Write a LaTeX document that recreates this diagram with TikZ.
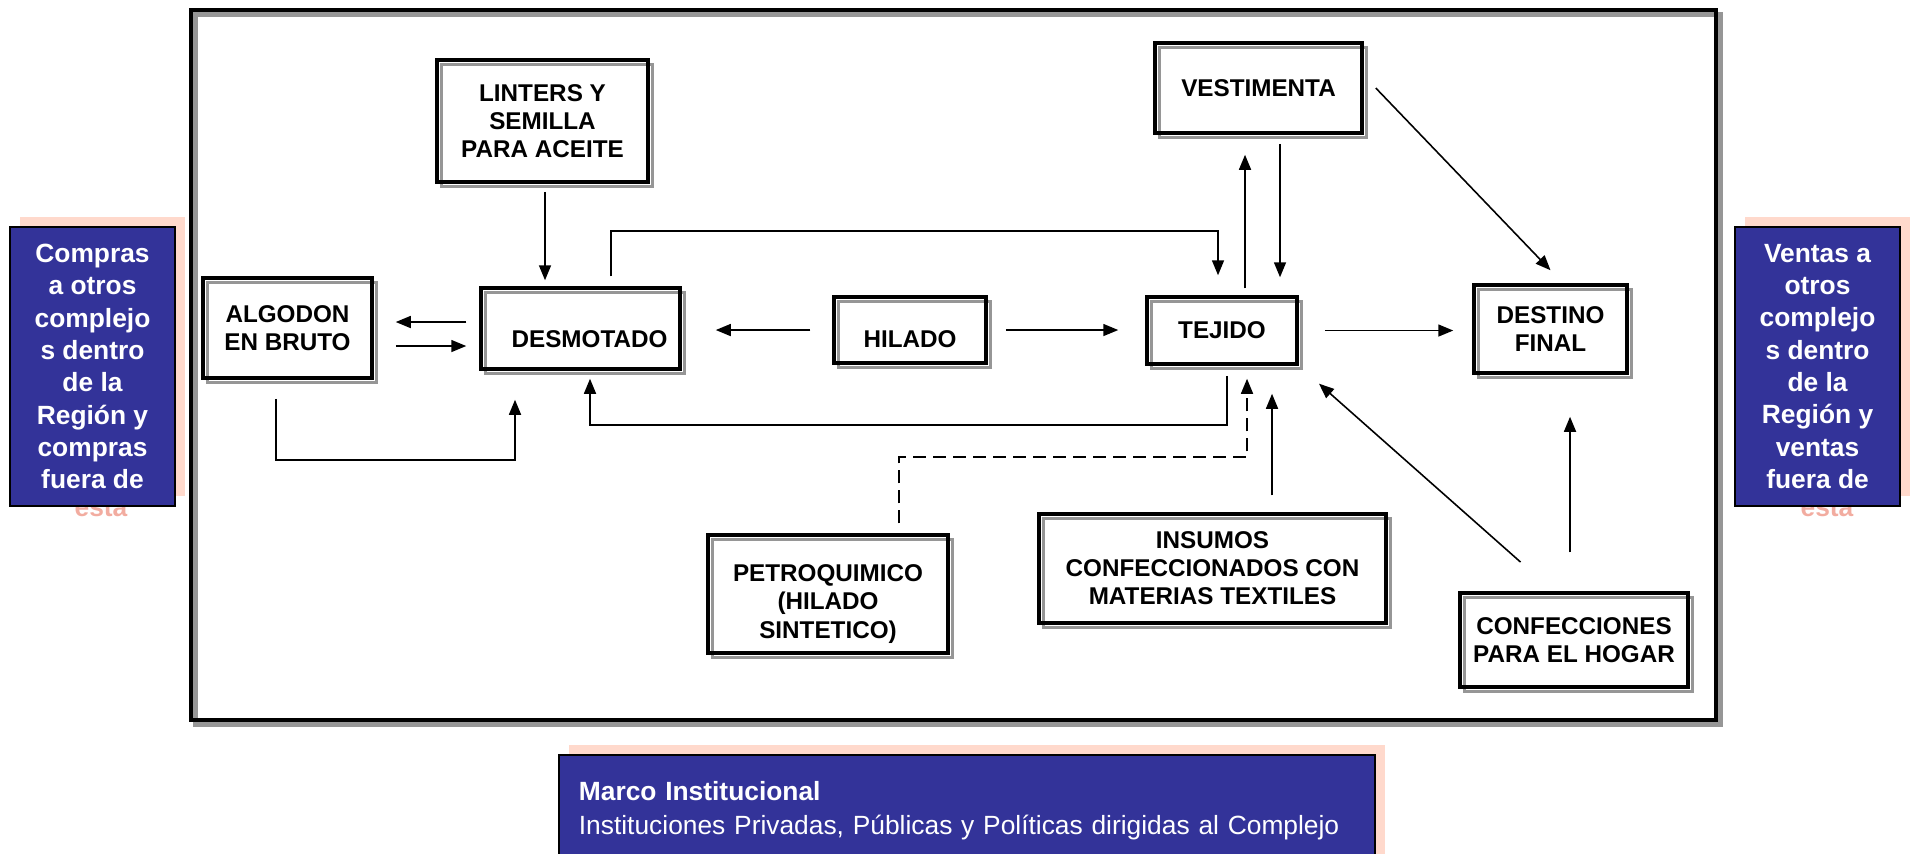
\documentclass[tikz,border=0pt]{standalone}
\usepackage{fontspec}
\setmainfont{Liberation Sans}
\usetikzlibrary{arrows.meta}
\usetikzlibrary{shadows}
\definecolor{regblue}{RGB}{51, 51, 153}
\definecolor{regpink}{RGB}{255, 217, 204}
\definecolor{restopink}{RGB}{242, 172, 160}
\definecolor{shadegray}{RGB}{150, 150, 150}
\tikzset{stage/.style = {draw, line width=1pt, inner sep=0, align=center,
                         font=\fontsize{6.9}{8}\selectfont\bfseries,
                         general shadow={shadow xshift=0.45mm, shadow yshift=-0.45mm,
                                         draw=shadegray, line width=1pt}}}
\tikzset{complejo/.style = {line width=1.2pt,
                            general shadow={shadow xshift=0.45mm, shadow yshift=-0.45mm,
                                            draw=shadegray, line width=1.2pt}}}
\tikzset{arr/.style = {line width=0.45pt, -{Triangle[length=1.5mm, width=1.2mm]}}}
\tikzset{side/.style = {draw, fill=regblue, text=white, line width=0.5pt, inner sep=0,
                        align=center, font=\fontsize{7.5}{9.2}\selectfont\bfseries,
                        general shadow={shadow xshift=1mm, shadow yshift=1mm, fill=regpink}}}
\tikzset{resto/.style = {text=restopink, inner sep=0, anchor=base,
                         font=\fontsize{7.5}{9.2}\selectfont\bfseries}}

\begin{document}
\begin{tikzpicture}[x=1cm, y=-1cm]
      \useasboundingbox (0, 0) rectangle (19.12, 8.53);

      \draw [complejo] (1.91, 0.10) rectangle (17.16, 7.20);

      \node [stage, minimum width=2.11cm, minimum height=1.22cm] (lint) at (5.425, 1.21) {LINTERS Y\\SEMILLA\\PARA ACEITE};
      \node [stage, minimum width=1.69cm, minimum height=1.00cm] (algo) at (2.875, 3.28) {ALGODON\\EN BRUTO};
      \node [stage, minimum width=1.99cm, minimum height=0.81cm, text height=11pt] (desm) at (5.805, 3.285) {\hspace*{1.8mm}DESMOTADO};
      \node [stage, minimum width=1.52cm, minimum height=0.66cm, text height=10pt] (hil) at (9.10, 3.30) {HILADO};
      \node [stage, minimum width=1.50cm, minimum height=0.67cm] (tej) at (12.22, 3.305) {TEJIDO};
      \node [stage, minimum width=2.07cm, minimum height=0.90cm] (vest) at (12.585, 0.88) {VESTIMENTA};
      \node [stage, minimum width=1.53cm, minimum height=0.88cm] (dest) at (15.505, 3.29) {DESTINO\\FINAL};
      \node [stage, minimum width=2.40cm, minimum height=1.18cm] (petro) at (8.28, 5.94) {\rule{0pt}{10.5pt}PETROQUIMICO\\(HILADO\\SINTETICO)};
      \node [stage, minimum width=3.47cm, minimum height=1.09cm] (insu) at (12.125, 5.685) {INSUMOS\\CONFECCIONADOS CON\\MATERIAS TEXTILES};
      \node [stage, minimum width=2.28cm, minimum height=0.94cm] (conf) at (15.74, 6.40) {CONFECCIONES\\PARA EL HOGAR};

      % desmotado
      \draw [arr, shorten <=0.8mm, shorten >=0.6mm] ([xshift=0.25mm]lint.south) -- ([xshift=0.25mm]lint.south |- desm.north);
      \draw [arr, shorten <=1.3mm, shorten >=2.2mm] ([yshift=0.65mm]desm.west) -- ([yshift=0.65mm]desm.west -| algo.east);
      \draw [arr, shorten <=2.2mm, shorten >=1.3mm] ([yshift=-1.8mm]algo.east) -- ([yshift=-1.8mm]algo.east -| desm.west);
      \draw [arr, shorten <=1.9mm, shorten >=2.9mm] ([xshift=-1.15mm]algo.south) -- ++(0, 0.8) -| ([xshift=-6.55mm]desm.south);
      \draw [arr, shorten <=1mm, shorten >=2mm] ([xshift=3.05mm]desm.north) -- ++(0, -0.55) -| ([xshift=-0.4mm]tej.north);
      \draw [arr, shorten <=1mm, shorten >=0.8mm] ([xshift=0.5mm]tej.south) -- ++(0, 0.59) -| ([xshift=0.95mm]desm.south);

      % hilado y tejido
      \draw [arr, shorten <=2.2mm, shorten >=3.4mm] (hil.west) -- (hil.west -| desm.east);
      \draw [arr, shorten <=1.8mm, shorten >=2.7mm] (hil.east) -- (hil.east -| tej.west);
      \draw [arr, shorten <=0.7mm, shorten >=2mm] ([xshift=2.3mm]tej.north) -- ([xshift=2.3mm]tej.north |- vest.south);
      \draw [arr, shorten <=0.9mm, shorten >=1.8mm] ([xshift=2.15mm]vest.south) -- ([xshift=2.15mm]vest.south |- tej.north);
      \draw [arr] ([xshift=1.2mm]vest.east) -- ([yshift=1.3mm]dest.north);
      \draw [arr, shorten <=2.6mm, shorten >=1.9mm] (tej.east) -- (tej.east -| dest.west);
      \draw [arr, dash pattern=on 1.3mm off 0.7mm, shorten <=1mm, shorten >=1.3mm]
        ([xshift=7.1mm]petro.north) -- ++(0, -0.76) -| ([xshift=2.5mm]tej.south);
      \draw [arr, shorten <=1.7mm, shorten >=2.8mm] ([xshift=5.95mm]insu.north) -- ([xshift=5.95mm]insu.north |- tej.south);
      \draw [arr, shorten <=4.4mm, shorten >=2.7mm] ([xshift=-2.05mm]conf.north) -- (tej.south east);
      \draw [arr, shorten <=3.9mm, shorten >=4.2mm] ([xshift=-0.4mm]conf.north) -- ([xshift=-0.4mm]conf.north |- dest.south);

      % compras y ventas
      \node [resto] (restoc) at (1.01, 5.16) {ésta};
      \node [resto] (restov) at (18.27, 5.16) {ésta};
      \node [side, minimum width=1.65cm, minimum height=2.79cm] (compras) at (0.925, 3.665)
        {Compras\\a otros\\complejo\\s dentro\\de la\\Región y\\compras\\fuera de};
      \node [side, minimum width=1.65cm, minimum height=2.79cm] (ventas) at (18.175, 3.665)
        {Ventas a\\otros\\complejo\\s dentro\\de la\\Región y\\ventas\\fuera de};

      \node [side, anchor=north west, minimum width=8.16cm, minimum height=1.12cm, inner xsep=2mm,
             text width=7.76cm, align=left, font=\fontsize{7.5}{9.6}\selectfont] (marco) at (5.58, 7.54)
        {\textbf{Marco Institucional}\\Instituciones Privadas, Públicas y Políticas dirigidas al Complejo};
\end{tikzpicture}
\end{document}
